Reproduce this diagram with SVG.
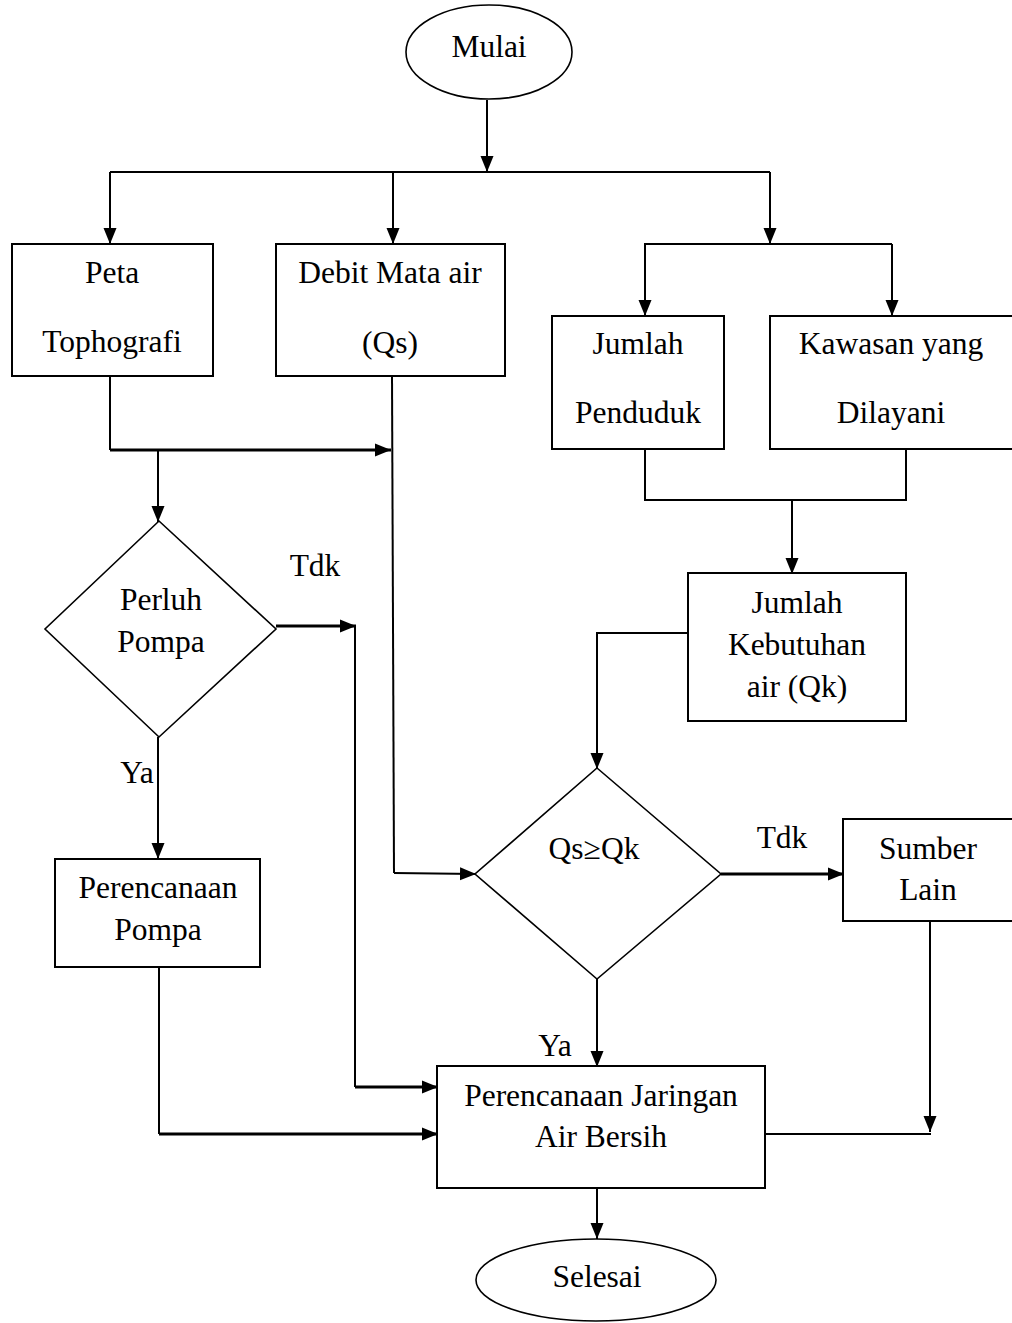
<svg xmlns="http://www.w3.org/2000/svg" width="1012" height="1323" viewBox="0 0 1012 1323">
<style>
text{font-family:"Liberation Serif","Times New Roman",serif;font-size:31.5px;fill:#000;text-anchor:middle}
.box{fill:#fff;stroke:#000;stroke-width:2}
.shape{fill:#fff;stroke:#000;stroke-width:1.6}
.c{fill:none;stroke:#000;stroke-width:2}
.t{fill:none;stroke:#000;stroke-width:3}
.a{marker-end:url(#ah)}
</style>
<defs>
<marker id="ah" markerUnits="userSpaceOnUse" markerWidth="18" markerHeight="16" refX="16" refY="8" orient="auto">
<path d="M0,1.5 L16,8 L0,14.5 z" fill="#000"/>
</marker>
</defs>
<rect width="1012" height="1323" fill="#fff"/>
<g id="connectors">
<path class="c a" d="M487,100 L487,172"/>
<path class="c" d="M110,172 L770,172"/>
<path class="c a" d="M110,172 L110,244"/>
<path class="c a" d="M393,172 L393,244"/>
<path class="c a" d="M770,172 L770,244"/>
<path class="c" d="M644,244 L892,244"/>
<path class="c a" d="M645,244 L645,316"/>
<path class="c a" d="M892,244 L892,316"/>
<path class="c" d="M110,376 L110,450"/>
<path class="t a" d="M110,450 L391,450"/>
<path class="c a" d="M158,450 L158,522"/>
<path class="c" d="M392,376 L394,873"/>
<path class="c a" d="M394,873 L476,874"/>
<path class="t a" d="M276,626 L356,626"/>
<path class="c" d="M355,626 L355,1087"/>
<path class="t a" d="M355,1087 L438,1087"/>
<path class="c a" d="M158,737 L158,859"/>
<path class="c" d="M159,967 L159,1134"/>
<path class="t a" d="M159,1134 L438,1134"/>
<path class="c" d="M645,449 L645,500 L906,500 L906,449"/>
<path class="c a" d="M792,500 L792,574"/>
<path class="c" d="M688,633 L597,633"/>
<path class="c a" d="M597,632 L597,769"/>
<path class="t a" d="M721,874 L844,874"/>
<path class="c a" d="M597,979 L597,1067"/>
<path class="c" d="M765,1134 L931,1134"/>
<path class="c a" d="M930,921 L930,1132"/>
<path class="c a" d="M597,1188 L597,1239"/>
</g>
<g id="mulai"><ellipse class="shape" cx="489" cy="52" rx="83" ry="47"/><text x="489" y="57">Mulai</text></g>
<g id="peta"><rect class="box" x="12" y="244" width="201" height="132"/><text x="112" y="283">Peta</text><text x="112" y="352">Tophografi</text></g>
<g id="debit"><rect class="box" x="276" y="244" width="229" height="132"/><text x="390" y="283">Debit Mata air</text><text x="390" y="353">(Qs)</text></g>
<g id="penduduk"><rect class="box" x="552" y="316" width="172" height="133"/><text x="638" y="354">Jumlah</text><text x="638" y="423">Penduduk</text></g>
<g id="kawasan"><rect class="box" x="770" y="316" width="244" height="133"/><text x="891" y="354">Kawasan yang</text><text x="891" y="423">Dilayani</text></g>
<g id="perluh"><polygon class="shape" points="159,521 276,629 159,737 45,629"/><text x="161" y="610">Perluh</text><text x="161" y="652">Pompa</text></g>
<g id="label-tdk1"><text x="315" y="576">Tdk</text></g>
<g id="label-ya1"><text x="137" y="783">Ya</text></g>
<g id="kebutuhan"><rect class="box" x="688" y="573" width="218" height="148"/><text x="797" y="613">Jumlah</text><text x="797" y="655">Kebutuhan</text><text x="797" y="697">air (Qk)</text></g>
<g id="qsqk"><polygon class="shape" points="597,768 721,874 597,979 475,874"/><text x="594" y="859">Qs≥Qk</text></g>
<g id="label-tdk2"><text x="782" y="848">Tdk</text></g>
<g id="sumber"><rect class="box" x="843" y="819" width="171" height="102"/><text x="928" y="859">Sumber</text><text x="928" y="900">Lain</text></g>
<g id="pompa"><rect class="box" x="55" y="859" width="205" height="108"/><text x="158" y="898">Perencanaan</text><text x="158" y="940">Pompa</text></g>
<g id="label-ya2"><text x="555" y="1056">Ya</text></g>
<g id="jaringan"><rect class="box" x="437" y="1066" width="328" height="122"/><text x="601" y="1106">Perencanaan Jaringan</text><text x="601" y="1147">Air Bersih</text></g>
<g id="selesai"><ellipse class="shape" cx="596" cy="1280" rx="120" ry="41"/><text x="597" y="1287">Selesai</text></g>
</svg>
